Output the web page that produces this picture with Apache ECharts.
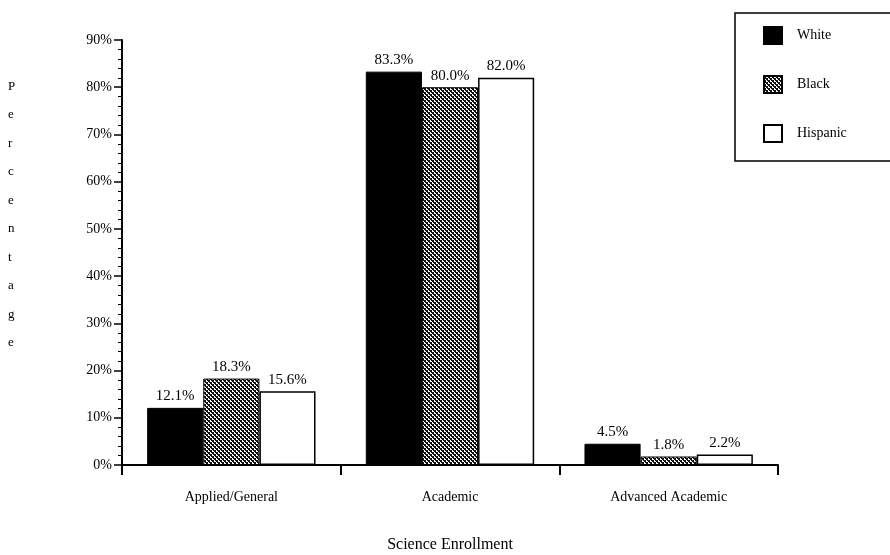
<!DOCTYPE html>
<html>
<head>
<meta charset="utf-8">
<script src="https://cdn.jsdelivr.net/npm/echarts@6/dist/echarts.min.js"></script>
<style>
  html, body { margin: 0; padding: 0; background: #fff; }
  #chart { width: 890px; height: 555px; }
</style>
</head>
<body>
<div id="chart"></div>
<script>
// 科学课程注册比例
var categories = ['Applied/General', 'Academic', 'Advanced Academic']
var whiteData = [12.1, 83.3, 4.5]
var blackData = [18.3, 80.0, 1.8]
var hispanicData = [15.6, 82.0, 2.2]
var yTicks = [0, 10, 20, 30, 40, 50, 60, 70, 80, 90]

var serif = '"Liberation Serif", "DejaVu Serif", serif'

// dither pattern for the "Black" bars
function makePattern() {
  var c = document.createElement('canvas')
  c.width = 4
  c.height = 4
  var ctx = c.getContext('2d')
  ctx.fillStyle = '#fff'
  ctx.fillRect(0, 0, 4, 4)
  ctx.fillStyle = '#111'
  ctx.fillRect(0, 0, 2, 2)
  ctx.fillRect(2, 2, 2, 2)
  ctx.fillRect(1, 2, 1, 1)
  ctx.fillRect(3, 0, 1, 1)
  return c
}
var pattern = { image: makePattern(), repeat: 'repeat' }

var myChart = echarts.init(document.getElementById('chart'))

var labelStyle = {
  show: true,
  position: 'top',
  distance: 4,
  color: '#000',
  fontFamily: serif,
  fontSize: 15,
  formatter: function (p) { return p.value.toFixed(1) + '%' }
}

var option = {
  backgroundColor: '#fff',
  animation: false,
  grid: { left: 122, right: 112, top: 40, bottom: 90, outerBoundsMode: 'none', containLabel: false },
  legend: {
    orient: 'vertical',
    left: 735,
    top: 13,
    padding: [13, 70, 18, 28],
    itemGap: 30,
    itemWidth: 18,
    itemHeight: 17,
    borderColor: '#000',
    borderWidth: 1.5,
    icon: 'rect',
    textStyle: { fontFamily: serif, fontSize: 14, color: '#000', padding: [0, 0, 0, 10] },
    data: ['White', 'Black', 'Hispanic']
  },
  graphic: [
    {
      type: 'text',
      left: 8,
      top: 72,
      style: {
        text: 'Percentage'.split('').join('\n'),
        fontFamily: serif,
        fontSize: 13,
        lineHeight: 28.5,
        fill: '#000',
        align: 'center'
      }
    }
  ],
  xAxis: {
    type: 'category',
    data: categories,
    name: 'Science Enrollment',
    nameLocation: 'middle',
    nameGap: 72,
    nameTextStyle: { fontFamily: serif, fontSize: 16, color: '#000' },
    axisLine: { lineStyle: { color: '#000', width: 2 } },
    axisTick: { show: true, length: 10, lineStyle: { color: '#000', width: 2 } },
    axisLabel: { margin: 25, fontFamily: serif, fontSize: 14, color: '#000' }
  },
  yAxis: {
    type: 'value',
    min: yTicks[0],
    max: yTicks[yTicks.length - 1],
    interval: 10,
    axisLine: { show: true, lineStyle: { color: '#000', width: 2 } },
    axisTick: { show: true, length: 8, lineStyle: { color: '#000', width: 1.5 } },
    minorTick: { show: true, splitNumber: 5, length: 4, lineStyle: { color: '#000', width: 1 } },
    splitLine: { show: false },
    axisLabel: { margin: 10, fontFamily: serif, fontSize: 14, color: '#000', formatter: '{value}%' }
  },
  series: [
    {
      name: 'White',
      type: 'bar',
      barGap: 0,
      barCategoryGap: '23%',
      data: whiteData,
      itemStyle: { color: '#000', borderColor: '#000', borderWidth: 1 },
      label: labelStyle
    },
    {
      name: 'Black',
      type: 'bar',
      data: blackData,
      itemStyle: { color: pattern, borderColor: '#000', borderWidth: 1 },
      label: labelStyle
    },
    {
      name: 'Hispanic',
      type: 'bar',
      data: hispanicData,
      itemStyle: { color: '#fff', borderColor: '#000', borderWidth: 1.5 },
      label: labelStyle
    }
  ]
}
myChart.setOption(option, true)
</script>
</body>
</html>
